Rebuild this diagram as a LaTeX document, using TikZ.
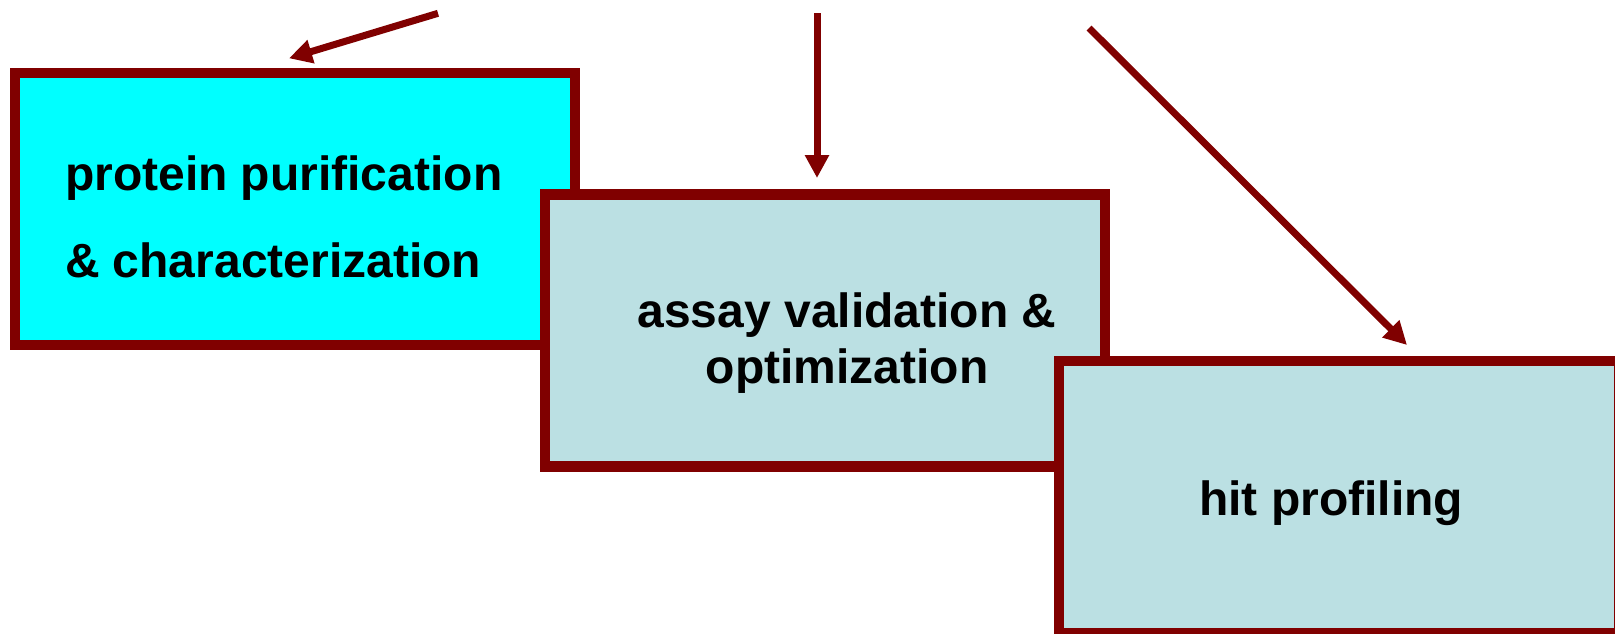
\documentclass[tikz,border=0pt]{standalone}
\usepackage{fontspec}
\setmainfont{Liberation Sans}
\usetikzlibrary{arrows.meta}
\definecolor{maroonline}{HTML}{800000}
\definecolor{cyanfill}{HTML}{00FFFF}
\definecolor{bluefill}{HTML}{BBE0E3}
\begin{document}
\begin{tikzpicture}[x=0.5pt,y=-0.5pt,
  stagebox/.style={draw=maroonline, line width=5.25pt, rectangle, inner sep=0pt, outer sep=0pt,
    minimum width=280pt, minimum height=136pt},
  label/.style={inner sep=0pt, outer sep=0pt, font=\fontsize{24pt}{28pt}\selectfont\bfseries, text=black},
  pointer/.style={draw=maroonline, line width=3.5pt, -{Triangle[length=11.5pt,width=11.5pt]}}]
\useasboundingbox (0,0) rectangle (1615,633);
\clip (0,0) rectangle (1615,633);
% boxes
\node[stagebox, fill=cyanfill] (b1) at (295,209) {};
\node[stagebox, fill=bluefill] (b2) at (825,330.5) {};
\node[stagebox, fill=bluefill] (b3) at (1339,497) {};
% texts
\node[label, anchor=base west] (t1a) at (65,190) {protein purification};
\node[label, anchor=base west] (t1b) at (65,277) {\& characterization};
\node[label, anchor=base] (t2a) at (847,327) {assay validation \&};
\node[label, anchor=base] (t2b) at (847,383) {optimization};
\node[label, anchor=base] (t3) at (1331,515) {hit profiling};
% arrows
\coordinate (a1s) at (438,13.3);
\coordinate (a1e) at (289,58.3);
\coordinate (a2s) at (817,13);
\coordinate (a2e) at (817,178);
\coordinate (a3s) at (1089,28);
\coordinate (a3e) at (1407,345);
\draw[pointer] (a1s) -- (a1e);
\draw[pointer] (a2s) -- (a2e);
\draw[pointer] (a3s) -- (a3e);
\end{tikzpicture}
\end{document}
